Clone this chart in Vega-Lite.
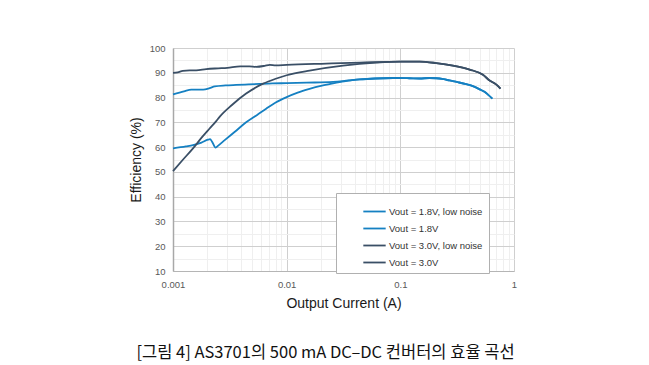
{
  "$schema": "https://vega.github.io/schema/vega-lite/v6.json",
  "width": 341,
  "height": 223,
  "autosize": "none",
  "padding": {"left": 173, "top": 48, "right": 135, "bottom": 94},
  "background": "white",
  "config": {
    "view": {"stroke": null},
    "font": "Liberation Sans"
  },
  "title": {
    "text": "[그림 4] AS3701의 500 mA DC–DC 컨버터의 효율 곡선",
    "orient": "bottom",
    "anchor": "middle",
    "dx": -18,
    "offset": 34,
    "font": "Noto Sans CJK KR",
    "fontSize": 16.5,
    "fontWeight": "normal",
    "color": "#111111"
  },
  "data": {
    "values": [
      {"s": "Vout = 1.8V, low noise", "i": 0.001, "e": 81.3},
      {"s": "Vout = 1.8V, low noise", "i": 0.00125, "e": 82.5},
      {"s": "Vout = 1.8V, low noise", "i": 0.00145, "e": 83.2},
      {"s": "Vout = 1.8V, low noise", "i": 0.00184, "e": 83.2},
      {"s": "Vout = 1.8V, low noise", "i": 0.0021, "e": 83.8},
      {"s": "Vout = 1.8V, low noise", "i": 0.00233, "e": 84.5},
      {"s": "Vout = 1.8V, low noise", "i": 0.0029, "e": 84.9},
      {"s": "Vout = 1.8V, low noise", "i": 0.0036, "e": 85.1},
      {"s": "Vout = 1.8V, low noise", "i": 0.0046, "e": 85.3},
      {"s": "Vout = 1.8V, low noise", "i": 0.0058, "e": 85.5},
      {"s": "Vout = 1.8V, low noise", "i": 0.0075, "e": 85.7},
      {"s": "Vout = 1.8V, low noise", "i": 0.01, "e": 85.8},
      {"s": "Vout = 1.8V, low noise", "i": 0.015, "e": 86.0},
      {"s": "Vout = 1.8V, low noise", "i": 0.0256, "e": 86.3},
      {"s": "Vout = 1.8V, low noise", "i": 0.035, "e": 86.9},
      {"s": "Vout = 1.8V, low noise", "i": 0.0439, "e": 87.3},
      {"s": "Vout = 1.8V, low noise", "i": 0.06, "e": 87.7},
      {"s": "Vout = 1.8V, low noise", "i": 0.086, "e": 87.9},
      {"s": "Vout = 1.8V, low noise", "i": 0.12, "e": 87.8},
      {"s": "Vout = 1.8V, low noise", "i": 0.148, "e": 87.7},
      {"s": "Vout = 1.8V, low noise", "i": 0.18, "e": 87.9},
      {"s": "Vout = 1.8V, low noise", "i": 0.207, "e": 87.8},
      {"s": "Vout = 1.8V, low noise", "i": 0.24, "e": 87.4},
      {"s": "Vout = 1.8V, low noise", "i": 0.27, "e": 86.9},
      {"s": "Vout = 1.8V, low noise", "i": 0.32, "e": 86.2},
      {"s": "Vout = 1.8V, low noise", "i": 0.38, "e": 85.4},
      {"s": "Vout = 1.8V, low noise", "i": 0.44, "e": 84.5},
      {"s": "Vout = 1.8V, low noise", "i": 0.5, "e": 83.3},
      {"s": "Vout = 1.8V, low noise", "i": 0.55, "e": 82.3},
      {"s": "Vout = 1.8V, low noise", "i": 0.59, "e": 81.2},
      {"s": "Vout = 1.8V, low noise", "i": 0.645, "e": 79.6},

      {"s": "Vout = 1.8V", "i": 0.001, "e": 59.5},
      {"s": "Vout = 1.8V", "i": 0.0013, "e": 60.3},
      {"s": "Vout = 1.8V", "i": 0.0015, "e": 60.8},
      {"s": "Vout = 1.8V", "i": 0.00178, "e": 61.8},
      {"s": "Vout = 1.8V", "i": 0.00203, "e": 63.0},
      {"s": "Vout = 1.8V", "i": 0.00212, "e": 63.2},
      {"s": "Vout = 1.8V", "i": 0.0022, "e": 62.3},
      {"s": "Vout = 1.8V", "i": 0.00237, "e": 59.8},
      {"s": "Vout = 1.8V", "i": 0.0025, "e": 60.6},
      {"s": "Vout = 1.8V", "i": 0.00285, "e": 62.8},
      {"s": "Vout = 1.8V", "i": 0.0035, "e": 66.2},
      {"s": "Vout = 1.8V", "i": 0.0044, "e": 70.0},
      {"s": "Vout = 1.8V", "i": 0.0055, "e": 73.0},
      {"s": "Vout = 1.8V", "i": 0.0066, "e": 75.5},
      {"s": "Vout = 1.8V", "i": 0.008, "e": 78.0},
      {"s": "Vout = 1.8V", "i": 0.01, "e": 80.2},
      {"s": "Vout = 1.8V", "i": 0.0125, "e": 82.0},
      {"s": "Vout = 1.8V", "i": 0.0159, "e": 83.5},
      {"s": "Vout = 1.8V", "i": 0.02, "e": 84.7},
      {"s": "Vout = 1.8V", "i": 0.0256, "e": 85.7},
      {"s": "Vout = 1.8V", "i": 0.032, "e": 86.5},
      {"s": "Vout = 1.8V", "i": 0.0439, "e": 87.3},
      {"s": "Vout = 1.8V", "i": 0.06, "e": 87.7},
      {"s": "Vout = 1.8V", "i": 0.086, "e": 87.9},
      {"s": "Vout = 1.8V", "i": 0.12, "e": 87.8},
      {"s": "Vout = 1.8V", "i": 0.148, "e": 87.7},
      {"s": "Vout = 1.8V", "i": 0.18, "e": 87.9},
      {"s": "Vout = 1.8V", "i": 0.207, "e": 87.8},
      {"s": "Vout = 1.8V", "i": 0.24, "e": 87.4},
      {"s": "Vout = 1.8V", "i": 0.27, "e": 86.9},
      {"s": "Vout = 1.8V", "i": 0.32, "e": 86.2},
      {"s": "Vout = 1.8V", "i": 0.38, "e": 85.4},
      {"s": "Vout = 1.8V", "i": 0.44, "e": 84.5},
      {"s": "Vout = 1.8V", "i": 0.5, "e": 83.3},
      {"s": "Vout = 1.8V", "i": 0.55, "e": 82.3},
      {"s": "Vout = 1.8V", "i": 0.59, "e": 81.2},
      {"s": "Vout = 1.8V", "i": 0.645, "e": 79.6},

      {"s": "Vout = 3.0V, low noise", "i": 0.001, "e": 90.0},
      {"s": "Vout = 3.0V, low noise", "i": 0.0011, "e": 90.2},
      {"s": "Vout = 3.0V, low noise", "i": 0.00122, "e": 90.8},
      {"s": "Vout = 3.0V, low noise", "i": 0.0014, "e": 91.0},
      {"s": "Vout = 3.0V, low noise", "i": 0.0016, "e": 91.0},
      {"s": "Vout = 3.0V, low noise", "i": 0.00196, "e": 91.5},
      {"s": "Vout = 3.0V, low noise", "i": 0.0025, "e": 91.8},
      {"s": "Vout = 3.0V, low noise", "i": 0.003, "e": 92.0},
      {"s": "Vout = 3.0V, low noise", "i": 0.0039, "e": 92.6},
      {"s": "Vout = 3.0V, low noise", "i": 0.0047, "e": 92.6},
      {"s": "Vout = 3.0V, low noise", "i": 0.0054, "e": 92.4},
      {"s": "Vout = 3.0V, low noise", "i": 0.0064, "e": 92.8},
      {"s": "Vout = 3.0V, low noise", "i": 0.0071, "e": 93.2},
      {"s": "Vout = 3.0V, low noise", "i": 0.008, "e": 93.0},
      {"s": "Vout = 3.0V, low noise", "i": 0.01, "e": 93.2},
      {"s": "Vout = 3.0V, low noise", "i": 0.0223, "e": 93.7},
      {"s": "Vout = 3.0V, low noise", "i": 0.044, "e": 94.1},
      {"s": "Vout = 3.0V, low noise", "i": 0.1, "e": 94.5},
      {"s": "Vout = 3.0V, low noise", "i": 0.148, "e": 94.5},
      {"s": "Vout = 3.0V, low noise", "i": 0.207, "e": 93.9},
      {"s": "Vout = 3.0V, low noise", "i": 0.29, "e": 92.9},
      {"s": "Vout = 3.0V, low noise", "i": 0.407, "e": 91.3},
      {"s": "Vout = 3.0V, low noise", "i": 0.533, "e": 89.2},
      {"s": "Vout = 3.0V, low noise", "i": 0.61, "e": 86.9},
      {"s": "Vout = 3.0V, low noise", "i": 0.7, "e": 85.2},
      {"s": "Vout = 3.0V, low noise", "i": 0.76, "e": 83.6},

      {"s": "Vout = 3.0V", "i": 0.001, "e": 50.3},
      {"s": "Vout = 3.0V", "i": 0.0012, "e": 54.5},
      {"s": "Vout = 3.0V", "i": 0.0015, "e": 59.5},
      {"s": "Vout = 3.0V", "i": 0.0018, "e": 64.0},
      {"s": "Vout = 3.0V", "i": 0.0021, "e": 67.5},
      {"s": "Vout = 3.0V", "i": 0.0024, "e": 70.5},
      {"s": "Vout = 3.0V", "i": 0.00258, "e": 72.3},
      {"s": "Vout = 3.0V", "i": 0.0033, "e": 77.0},
      {"s": "Vout = 3.0V", "i": 0.0044, "e": 81.6},
      {"s": "Vout = 3.0V", "i": 0.0062, "e": 85.6},
      {"s": "Vout = 3.0V", "i": 0.008, "e": 87.6},
      {"s": "Vout = 3.0V", "i": 0.01, "e": 89.0},
      {"s": "Vout = 3.0V", "i": 0.0159, "e": 90.9},
      {"s": "Vout = 3.0V", "i": 0.0313, "e": 92.9},
      {"s": "Vout = 3.0V", "i": 0.0615, "e": 94.1},
      {"s": "Vout = 3.0V", "i": 0.1, "e": 94.5},
      {"s": "Vout = 3.0V", "i": 0.148, "e": 94.5},
      {"s": "Vout = 3.0V", "i": 0.207, "e": 93.9},
      {"s": "Vout = 3.0V", "i": 0.29, "e": 92.9},
      {"s": "Vout = 3.0V", "i": 0.407, "e": 91.3},
      {"s": "Vout = 3.0V", "i": 0.533, "e": 89.2},
      {"s": "Vout = 3.0V", "i": 0.61, "e": 86.9},
      {"s": "Vout = 3.0V", "i": 0.7, "e": 85.2},
      {"s": "Vout = 3.0V", "i": 0.76, "e": 83.6}
    ]
  },
  "mark": {"type": "line", "interpolate": "monotone", "strokeWidth": 1.8},
  "encoding": {
    "x": {
      "field": "i",
      "type": "quantitative",
      "scale": {"type": "log", "domain": [0.001, 1], "nice": false},
      "axis": {
        "title": "Output Current (A)",
        "values": [0.001, 0.002, 0.003, 0.004, 0.005, 0.006, 0.007, 0.008, 0.009, 0.01, 0.02, 0.03, 0.04, 0.05, 0.06, 0.07, 0.08, 0.09, 0.1, 0.2, 0.3, 0.4, 0.5, 0.6, 0.7, 0.8, 0.9, 1],
        "labelExpr": "indexof([0.001, 0.01, 0.1, 1], datum.value) >= 0 ? datum.label : ''",
        "format": "~g",
        "ticks": false,
        "domainColor": "#b5b5b5",
        "gridColor": {"condition": {"test": "indexof([0.001, 0.01, 0.1, 1], datum.value) >= 0", "value": "#cfcfcf"}, "value": "#efefef"},
        "labelFontSize": 9.5,
        "labelColor": "#595959",
        "labelPadding": 8,
        "labelFlush": false,
        "titleFontSize": 14,
        "titleFontWeight": "normal",
        "titleColor": "#1a1a1a",
        "titlePadding": 8
      }
    },
    "y": {
      "field": "e",
      "type": "quantitative",
      "scale": {"domain": [10, 100], "nice": false, "zero": false},
      "axis": {
        "title": "Efficiency (%)",
        "values": [10, 15, 20, 25, 30, 35, 40, 45, 50, 55, 60, 65, 70, 75, 80, 85, 90, 95, 100],
        "labelExpr": "datum.value % 10 == 0 ? datum.label : ''",
        "ticks": false,
        "domainColor": "#a8a8a8",
        "domainWidth": 1.5,
        "gridColor": {"condition": {"test": "datum.value % 10 == 0", "value": "#cfcfcf"}, "value": "#efefef"},
        "labelFontSize": 9.5,
        "labelColor": "#595959",
        "labelPadding": 8,
        "labelFlush": false,
        "titleFontSize": 14,
        "titleFontWeight": "normal",
        "titleColor": "#1a1a1a",
        "titlePadding": 6
      }
    },
    "color": {
      "field": "s",
      "type": "nominal",
      "scale": {
        "domain": ["Vout = 1.8V, low noise", "Vout = 1.8V", "Vout = 3.0V, low noise", "Vout = 3.0V"],
        "range": ["#1580c2", "#1580c2", "#3a4f66", "#3a4f66"]
      },
      "legend": {
        "title": null,
        "orient": "none",
        "legendX": 163,
        "legendY": 145,
        "fillColor": "white",
        "strokeColor": "#b0b0b0",
        "padding": 6,
        "symbolType": "stroke",
        "symbolSize": 500,
        "symbolStrokeWidth": 1.8,
        "symbolOffset": 20,
        "labelOffset": 2,
        "labelFontSize": 9.5,
        "labelColor": "#333333",
        "rowPadding": -4
      }
    }
  }
}
